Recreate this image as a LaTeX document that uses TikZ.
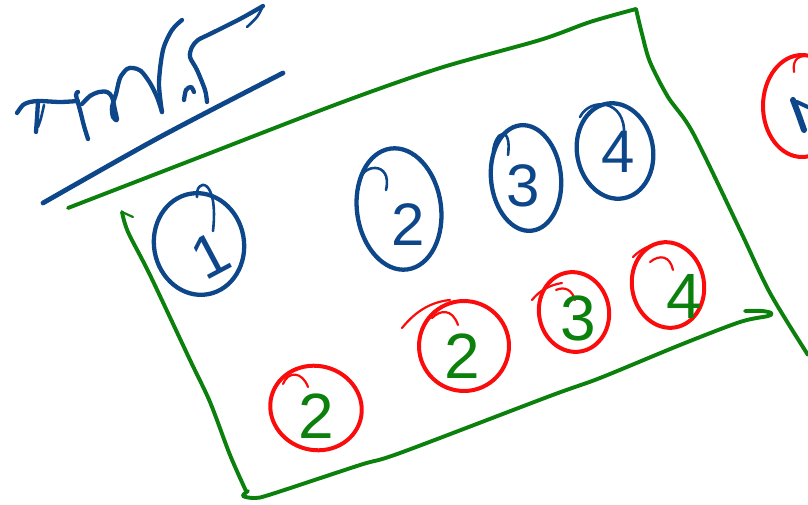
\documentclass[tikz,border=0pt]{standalone}
\usepackage{fontspec}
\setmainfont{Liberation Sans}
\definecolor{pblue}{RGB}{14,70,138}
\definecolor{pred}{RGB}{250,12,12}
\definecolor{pgreen}{RGB}{12,128,12}
\begin{document}
\begin{tikzpicture}[x=1pt,y=-1pt,line cap=round,line join=round,
  bluepen/.style={draw=pblue,line width=4.3pt},
  thinblue/.style={draw=pblue,line width=2.6pt},
  redpen/.style={draw=pred,line width=4pt},
  thinred/.style={draw=pred,line width=2.2pt},
  greenpen/.style={draw=pgreen,line width=3.9pt},
  bdigit/.style={text=pblue,font=\fontsize{60}{60}\selectfont,inner sep=0pt},
  gdigit/.style={text=pgreen,font=\fontsize{64}{64}\selectfont,inner sep=0pt}]
\useasboundingbox (0,0) rectangle (808,505);

% ---- handwritten title ----
\draw[bluepen] plot[smooth] coordinates {(17,113) (23,105) (30,102) (40,101) (60,102) (78,101)};
\draw[bluepen] plot[smooth] coordinates {(38,101) (37,118) (36,132)};
\draw[thinblue] plot[smooth] coordinates {(44,105) (41,118) (38,127)};
\draw[bluepen] plot[smooth] coordinates {(78,92) (76,95) (80,110) (84,126) (88,139)};
\draw[bluepen] plot[smooth] coordinates {(82,104) (90,96) (99,92) (107,92) (112,97) (115,110) (117,120) (113,117) (112,107) (116,94) (120,78) (127,69) (133,68) (141,71) (150,83) (157,97) (162,112)};
\draw[bluepen] plot[smooth] coordinates {(162,112) (159,83) (163,50) (172,30) (182,20)};
\draw[bluepen] plot[smooth] coordinates {(184,100) (186,90) (191,87) (194,92)};
\draw[bluepen] plot[smooth] coordinates {(207,102) (205,90) (197,70) (190,57) (192,47) (198,40) (210,34) (240,19) (263,6)};
\draw[thinblue] plot[smooth] coordinates {(263,6) (257,17) (247,27)};
\draw[draw=pblue,line width=4.8pt] plot[smooth] coordinates {(43,203) (160,137) (283,73)};

% ---- green frame ----
\draw[greenpen] plot[smooth] coordinates {(68,208) (200,157) (340,103) (440,68) (540,40) (590,22) (636,9)};
\draw[greenpen] plot[smooth] coordinates {(636,9) (642,34) (650,62) (668,97) (693,133) (740,230) (770,293) (808,355)};
\draw[greenpen] plot[smooth] coordinates {(122,212) (128,232) (150,275) (190,360) (210,402) (230,455) (246,491)};
\draw[draw=pgreen,line width=2.2pt] (122,212) -- (133,217);
\draw[greenpen] plot[smooth] coordinates {(248,491) (243,496) (255,498) (272,494) (360,465) (400,453) (550,396) (600,378) (680,345) (740,322) (768,316) (771,313) (762,311) (745,311)};

% ---- blue circles ----
\draw[bluepen] (199,244) ellipse [x radius=45pt,y radius=51pt,rotate=10];
\draw[thinblue] (197,197) .. controls (195,178) and (219,176) .. (213,231);
\node[bdigit,rotate=28] (b1) at (211,255) {1};

\draw[bluepen] (399,209) ellipse [x radius=42pt,y radius=61pt,rotate=8];
\draw[thinblue] (360,182) .. controls (360,164) and (393,160) .. (386,190);
\node[bdigit] (b2) at (408,225) {2};

\draw[bluepen] (526,178) ellipse [x radius=35pt,y radius=53pt,rotate=6];
\draw[thinblue] (493,152) .. controls (495,130) and (512,125) .. (508,155);
\node[bdigit] (b3) at (523,186) {3};

\draw[bluepen] (615,151) ellipse [x radius=38pt,y radius=48pt,rotate=10];
\draw[thinblue] (580,117) .. controls (590,97) and (626,99) .. (624,135);
\node[bdigit] (b4) at (618,152) {4};

% ---- red circles with green digits ----
\draw[redpen] (316,408) ellipse [x radius=46pt,y radius=42pt,rotate=-15];
\draw[thinred] (283,384) .. controls (288,371) and (302,371) .. (308,387);
\node[gdigit] (g1) at (316,416) {2};

\draw[redpen] (464,346) ellipse [x radius=45pt,y radius=45pt,rotate=-10];
\draw[thinred] (402,328) .. controls (415,312) and (430,302) .. (450,300);
\draw[thinred] (432,318) .. controls (440,310) and (452,308) .. (458,325);
\node[gdigit] (g2) at (462,356) {2};

\draw[redpen] (574,312) ellipse [x radius=35pt,y radius=40pt,rotate=10];
\draw[thinred] (532,300) .. controls (540,290) and (550,285) .. (562,283);
\draw[thinred] (556,290) .. controls (565,286) and (572,290) .. (575,300);
\node[gdigit] (g3) at (578,318) {3};

\draw[redpen] (668,285) ellipse [x radius=36pt,y radius=43pt,rotate=10];
\draw[thinred] (633,257) .. controls (642,248) and (652,244) .. (664,243);
\draw[thinred] (650,262) .. controls (660,254) and (670,256) .. (673,270);
\node[gdigit] (g4) at (684,296) {4};

% ---- partial circle at right edge ----
\draw[redpen] (802,106) ellipse [x radius=39pt,y radius=51pt];
\draw[thinred] (794,72) .. controls (792,58) and (800,55) .. (810,56);
\draw[draw=pblue,line width=6pt] plot[smooth] coordinates {(793,100) (798,113) (804,130)};
\draw[draw=pblue,line width=4pt] (797,102) -- (810,108);
\end{tikzpicture}
\end{document}
